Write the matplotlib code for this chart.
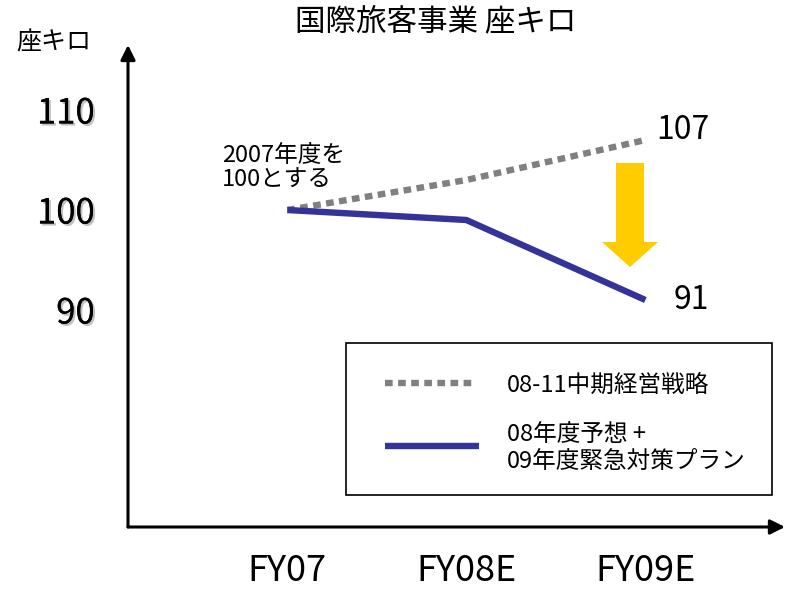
import matplotlib
matplotlib.use("Agg")
import matplotlib.pyplot as plt
from matplotlib.patches import Polygon, Rectangle
from matplotlib.lines import Line2D
import matplotlib.patheffects as pe

plt.rcParams['font.family'] = ['Noto Sans CJK JP', 'DejaVu Sans']

categories = ['FY07', 'FY08E', 'FY09E']
plan_values = [100, 103, 107]        # 08-11中期経営戦略
forecast_values = [100, 99, 91]      # 08年度予想 + 09年度緊急対策プラン
y_ticks = [90, 100, 110]
title = '国際旅客事業 座キロ'
y_label = '座キロ'
note = '2007年度を\n100とする'
legend_labels = ['08-11中期経営戦略', '08年度予想 +\n09年度緊急対策プラン']

W, H = 787, 589
fig = plt.figure(figsize=(W / 100, H / 100), dpi=100)

def fx(px):
    return px / W

def fy(py):
    return 1 - py / H

ax = fig.add_axes([fx(128), fy(527), fx(785) - fx(128), fy(45) - fy(527)])
ax.set_xlim(-0.89, 2.78)
ax.set_ylim(68.3, 116.5)
for s in ax.spines.values():
    s.set_visible(False)

x = list(range(len(categories)))
ax.plot(x, plan_values, color='#808080', lw=4.6, dashes=(1.2, 0.85),
        solid_capstyle='butt', dash_capstyle='butt')
ax.plot(x, forecast_values, color='#333399', lw=4.6, solid_capstyle='butt')

ax.set_xticks(x)
ax.set_xticklabels(categories, fontsize=26)
ax.set_yticks(y_ticks)
ax.set_yticklabels([str(v) for v in y_ticks], fontsize=25)
ax.tick_params(axis='both', length=0)
ax.tick_params(axis='y', pad=24)
ax.tick_params(axis='x', pad=19)
shadow = [pe.withSimplePatchShadow(offset=(1.5, -1.5), shadow_rgbFace='#999999', alpha=0.6), pe.Normal()]
for lbl in ax.get_yticklabels():
    lbl.set_path_effects(shadow)

# axis arrows
arrow_kw = dict(arrowstyle='-|>', color='black', lw=2.2, mutation_scale=22, shrinkA=0, shrinkB=0)
ax.annotate('', xy=(0, 1), xytext=(0, 0), xycoords='axes fraction', arrowprops=arrow_kw)
ax.annotate('', xy=(1, 0), xytext=(0, 0), xycoords='axes fraction', arrowprops=arrow_kw)

# end value labels
ax.annotate(str(plan_values[-1]), xy=(x[-1], plan_values[-1]), xytext=(8, 7),
            textcoords='offset points', fontsize=23, va='center', ha='left')
ax.annotate(str(forecast_values[-1]), xy=(x[-1], forecast_values[-1]), xytext=(20, 0),
            textcoords='offset points', fontsize=23, va='center', ha='left')

# title and y label
fig.text(fx(436), fy(23), title, fontsize=22, ha='center', va='center')
fig.text(fx(54), fy(42), y_label, fontsize=18, ha='center', va='center')

# note
fig.text(fx(222), fy(168), note, fontsize=17, ha='left', va='center', linespacing=1.1)

# yellow arrow
arrow_px = [(616, 163), (644, 163), (644, 242), (658, 242), (630, 267), (602, 242), (616, 242)]
fig.patches.append(Polygon([(fx(a), fy(b)) for a, b in arrow_px], closed=True,
                           transform=fig.transFigure, facecolor='#FFCC00', edgecolor='none'))

# legend box
fig.patches.append(Rectangle((fx(346), fy(495)), fx(772) - fx(346), fy(343) - fy(495),
                             transform=fig.transFigure, facecolor='white', edgecolor='black', lw=1.2))
fig.lines.append(Line2D([fx(385), fx(472)], [fy(383), fy(383)], transform=fig.transFigure,
                        color='#808080', lw=4.6, dashes=(1.2, 0.85), dash_capstyle='butt'))
fig.lines.append(Line2D([fx(385), fx(479)], [fy(446), fy(446)], transform=fig.transFigure,
                        color='#333399', lw=4.6, solid_capstyle='butt'))
fig.text(fx(507), fy(385), legend_labels[0], fontsize=17, ha='left', va='center')
fig.text(fx(507), fy(448), legend_labels[1], fontsize=17, ha='left', va='center', linespacing=1.2)

fig.savefig('out.png', dpi=100)
